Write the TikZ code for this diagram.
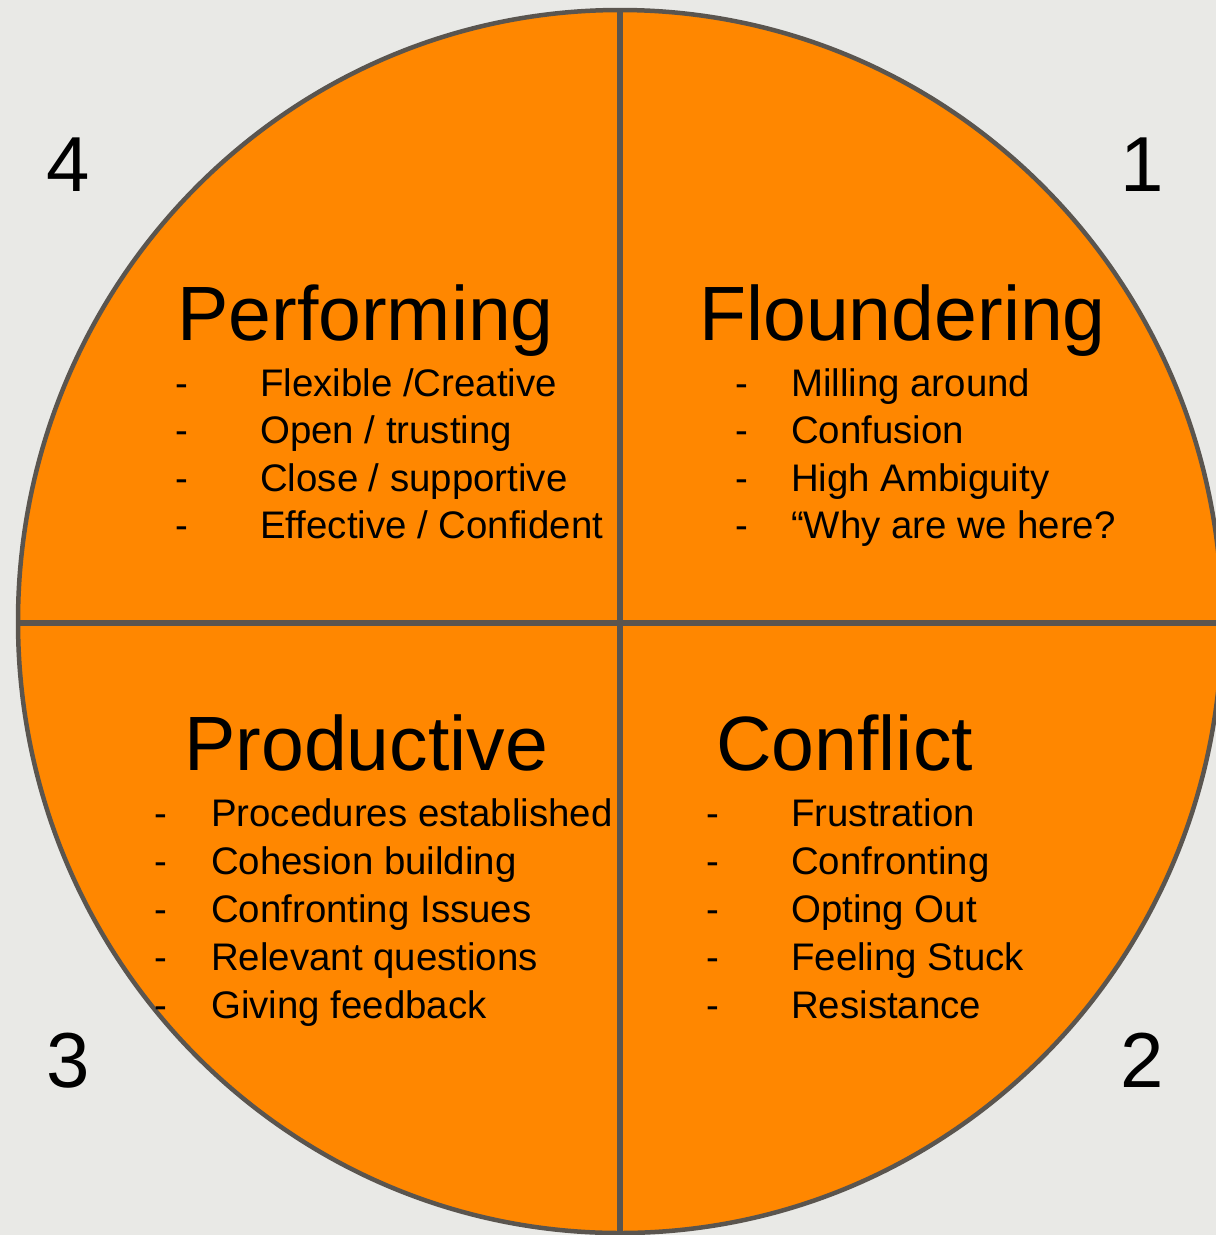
\documentclass[tikz,border=0pt]{standalone}
\usepackage{fontspec}
\setmainfont{Liberation Sans}
\definecolor{bgcol}{HTML}{E9E9E6}
\definecolor{orangefill}{HTML}{FF8700}
\definecolor{edgecol}{HTML}{5A554F}
\begin{document}
\begin{tikzpicture}[x=1pt,y=-1pt,
  title/.style={anchor=base west,inner sep=0pt,font=\fontsize{77}{77}\selectfont},
  item/.style={anchor=base west,inner sep=0pt,font=\fontsize{38.4}{38.4}\selectfont},
  dashmark/.style={anchor=base,inner sep=0pt,font=\fontsize{38.4}{38.4}\selectfont},
  num/.style={anchor=base,inner sep=0pt,font=\fontsize{78}{78}\selectfont}]
\useasboundingbox (0,0) rectangle (1216,1235);
\fill[bgcol] (0,0) rectangle (1216,1235);
\filldraw[fill=orangefill,draw=edgecol,line width=4.5pt] (620,621.5) ellipse [x radius=602, y radius=611.5];
\draw[edgecol,line width=6pt] (620,10) -- (620,1233);
\draw[edgecol,line width=6pt] (18,623) -- (1222,623);

% numbers
\node[num] (n4) at (68,191) {4};
\node[num] (n1) at (1142,191) {1};
\node[num] (n3) at (68,1087) {3};
\node[num] (n2) at (1142,1087) {2};

% titles
\node[title] (tperf) at (177,340) {Performing};
\node[title] (tflou) at (699,340) {Floundering};
\node[title] (tprod) at (184,770) {Productive};
\node[title] (tconf) at (716,770) {Conflict};

% Performing items
\foreach \t [count=\i] in {Flexible /Creative, Open / trusting, Close / supportive, Effective / Confident}{
  \node[dashmark] (pd\i) at (182,{396+47.5*(\i-1)}) {-};
  \node[item] (pi\i) at (260,{396+47.5*(\i-1)}) {\t};
}
% Floundering items
\foreach \t [count=\i] in {Milling around, Confusion, High Ambiguity, “Why are we here?}{
  \node[dashmark] (fd\i) at (742,{396+47.5*(\i-1)}) {-};
  \node[item] (fi\i) at (791,{396+47.5*(\i-1)}) {\t};
}
% Productive items
\foreach \t [count=\i] in {Procedures established, Cohesion building, Confronting Issues, Relevant questions, Giving feedback}{
  \node[dashmark] (rd\i) at (161,{826+48*(\i-1)}) {-};
  \node[item] (ri\i) at (211,{826+48*(\i-1)}) {\t};
}
% Conflict items
\foreach \t [count=\i] in {Frustration, Confronting, Opting Out, Feeling Stuck, Resistance}{
  \node[dashmark] (cd\i) at (713,{826+48*(\i-1)}) {-};
  \node[item] (ci\i) at (791,{826+48*(\i-1)}) {\t};
}
\end{tikzpicture}
\end{document}
